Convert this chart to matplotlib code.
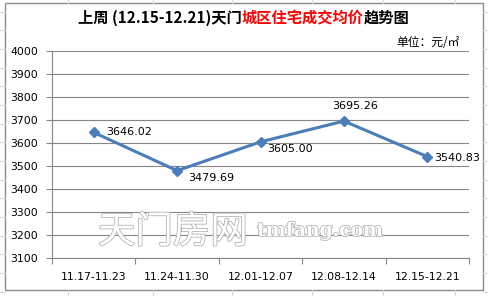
import matplotlib
matplotlib.use("Agg")
import matplotlib.pyplot as plt
import matplotlib.patches as mpatches
import matplotlib.patheffects as pe
from matplotlib.lines import Line2D

plt.rcParams['font.family'] = ['Noto Sans CJK SC', 'DejaVu Sans']

categories = ["11.17-11.23", "11.24-11.30", "12.01-12.07", "12.08-12.14", "12.15-12.21"]
prices = [3646.02, 3479.69, 3605.00, 3695.26, 3540.83]
yticks = [3100, 3200, 3300, 3400, 3500, 3600, 3700, 3800, 3900, 4000]
title_parts = ["上周 (12.15-12.21)天门", "城区住宅成交均价", "趋势图"]
unit_text = "单位：元/㎡"
watermark_cn = "天门房网"
watermark_en = "tmfang.com"

W, H = 488, 296
fig = plt.figure(figsize=(W / 100, H / 100), dpi=100)
fig.patch.set_facecolor("white")

# spreadsheet grid in the margins
sheet_col = "#d0d7e5"
for i in range(17):
    y = 11.7 + 18.67 * i
    for x0, x1 in [(0, 5), (483, 488)]:
        fig.add_artist(Line2D([x0 / W, x1 / W], [1 - y / H, 1 - y / H], color=sheet_col, lw=0.8))
for x in [68, 153, 232, 312, 383, 455]:
    for y0, y1 in [(0, 3), (290, 296)]:
        fig.add_artist(Line2D([x / W, x / W], [1 - y0 / H, 1 - y1 / H], color=sheet_col, lw=0.8))

# chart area border
fig.add_artist(mpatches.Rectangle((5 / W, 1 - 290 / H), 478 / W, 287 / H,
                                  transform=fig.transFigure, facecolor="white",
                                  edgecolor="#8c8c8c", lw=1.0, zorder=0))

ax = fig.add_axes([52 / W, 1 - 258 / H, (469 - 52) / W, (258 - 51) / H])
ax.set_facecolor("none")
x = list(range(len(categories)))

ax.set_xlim(-0.5, len(categories) - 0.5)
ax.set_ylim(3100, 4000)
ax.set_yticks(yticks)
ax.set_yticklabels([str(v) for v in yticks], fontsize=7.8, family=['DejaVu Sans'])
ax.set_xticks(x)
ax.set_xticklabels(categories, fontsize=7.8, family=['DejaVu Sans'])
ax.set_xticks([i - 0.5 for i in range(len(categories) + 1)], minor=True)
ax.tick_params(axis='x', which='major', length=0, pad=10)
ax.tick_params(axis='x', which='minor', length=4, color="#868686", width=0.8, direction='out')
ax.tick_params(axis='y', length=4, color="#868686", width=0.8, pad=6)

for s in ["top", "right"]:
    ax.spines[s].set_visible(False)
for s in ["left", "bottom"]:
    ax.spines[s].set_color("#868686")
    ax.spines[s].set_linewidth(0.8)

ax.grid(axis='y', color="#868686", lw=0.8)
ax.set_axisbelow(True)

# watermark
stroke = [pe.withStroke(linewidth=1.2, foreground="#b4b4b4")]
ax.text(0.05, 3212, watermark_cn, fontsize=27, color="white", ha="left", va="center",
        path_effects=stroke, zorder=1)
ax.text(1.96, 3218, watermark_en, fontsize=13.5, color="white", ha="left", va="center",
        family=['DejaVu Serif'], weight='bold', path_effects=stroke, zorder=1)

ax.plot(x, prices, color="#4a7ebb", lw=2.2, marker="D", markersize=5.5, zorder=3)

offsets = [(9, 0, 'left', 'center'), (8, -5, 'left', 'center'), (5, -5, 'left', 'center'),
           (8, 11, 'center', 'center'), (5, -1, 'left', 'center')]
for xi, v, (dx, dy, ha, va) in zip(x, prices, offsets):
    ax.annotate(f"{v:.2f}", (xi, v), xytext=(dx, dy), textcoords="offset points",
                fontsize=8, family=['DejaVu Sans'], ha=ha, va=va, zorder=4)

# title with coloured middle part
fs = 11
t1 = fig.text(78 / W, 1 - 18 / H, title_parts[0], fontsize=fs, weight='bold', va='center', ha='left')
fig.canvas.draw()
r = fig.canvas.get_renderer()
bb = t1.get_window_extent(r)
t2 = fig.text(bb.x1 / W, 1 - 18 / H, title_parts[1], fontsize=fs, weight='bold', va='center',
              ha='left', color='#ff0000')
bb2 = t2.get_window_extent(r)
fig.text(bb2.x1 / W, 1 - 18 / H, title_parts[2], fontsize=fs, weight='bold', va='center', ha='left')

fig.text(460 / W, 1 - 42 / H, unit_text, fontsize=8.5, ha='right', va='center')

fig.savefig("out.png", dpi=100)
